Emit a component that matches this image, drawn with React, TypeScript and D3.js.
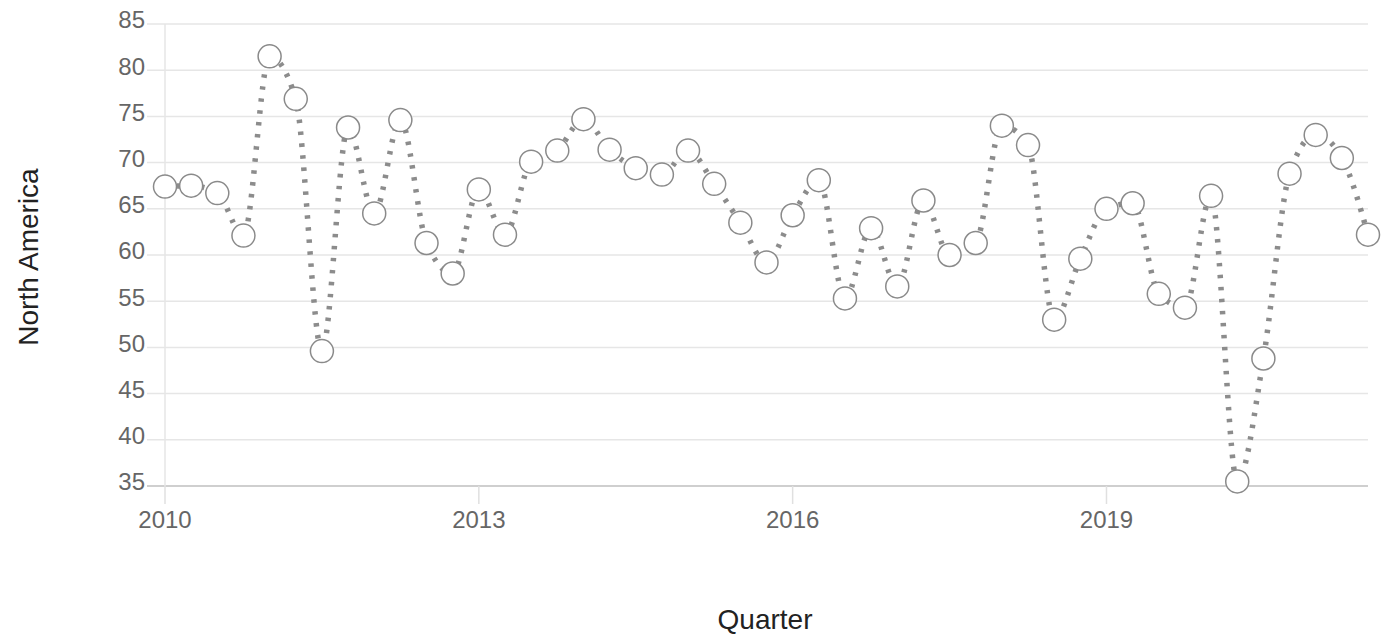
import React from "react";
import * as d3 from "d3";

// quarterly values, 2010 Q1 .. 2021 Q3
const quarters: string[] = [
  "2010 Q1", "2010 Q2", "2010 Q3", "2010 Q4",
  "2011 Q1", "2011 Q2", "2011 Q3", "2011 Q4",
  "2012 Q1", "2012 Q2", "2012 Q3", "2012 Q4",
  "2013 Q1", "2013 Q2", "2013 Q3", "2013 Q4",
  "2014 Q1", "2014 Q2", "2014 Q3", "2014 Q4",
  "2015 Q1", "2015 Q2", "2015 Q3", "2015 Q4",
  "2016 Q1", "2016 Q2", "2016 Q3", "2016 Q4",
  "2017 Q1", "2017 Q2", "2017 Q3", "2017 Q4",
  "2018 Q1", "2018 Q2", "2018 Q3", "2018 Q4",
  "2019 Q1", "2019 Q2", "2019 Q3", "2019 Q4",
  "2020 Q1", "2020 Q2", "2020 Q3", "2020 Q4",
  "2021 Q1", "2021 Q2", "2021 Q3",
];

const northAmerica: number[] = [
  67.4, 67.5, 66.7, 62.1,
  81.5, 76.9, 49.6, 73.8,
  64.5, 74.6, 61.3, 58.0,
  67.1, 62.2, 70.1, 71.3,
  74.7, 71.4, 69.4, 68.7,
  71.3, 67.7, 63.5, 59.2,
  64.3, 68.1, 55.3, 62.9,
  56.6, 65.9, 60.0, 61.3,
  74.0, 71.9, 53.0, 59.6,
  65.0, 65.6, 55.8, 54.3,
  66.4, 35.5, 48.8, 68.8,
  73.0, 70.5, 62.2,
];

const xTicks: number[] = [2010, 2013, 2016, 2019];
const yTicks: number[] = [35, 40, 45, 50, 55, 60, 65, 70, 75, 80, 85];

const W = 1383;
const H = 635;
const margin = { top: 24, right: 15, bottom: 149, left: 165 };
const tickLen = 18;
const font = "'Liberation Sans', Arial, sans-serif";

function toYear(q: string): number {
  const [y, qq] = q.split(" Q");
  return +y + (+qq - 1) / 4;
}

export default function App(): JSX.Element {
  const data = quarters.map((q, i) => ({ t: toYear(q), v: northAmerica[i] }));

  const x = d3
    .scaleLinear()
    .domain([2010, 2021.5])
    .range([margin.left, W - margin.right]);
  const y = d3
    .scaleLinear()
    .domain([35, 85])
    .range([H - margin.bottom, margin.top]);

  const line = d3
    .line<{ t: number; v: number }>()
    .x((d) => x(d.t))
    .y((d) => y(d.v))
    .curve(d3.curveMonotoneX);

  const bottom = y(35);

  return (
    <div style={{ position: "fixed", left: 0, top: 0 }}>
      <svg width={W} height={H} style={{ display: "block", background: "#fff" }}>
        {/* horizontal grid */}
        {yTicks.map((t) => (
          <line
            key={"g" + t}
            x1={margin.left - tickLen}
            x2={W - margin.right}
            y1={y(t)}
            y2={y(t)}
            stroke={t === 35 ? "#cfcfcf" : "#e6e6e6"}
            strokeWidth={t === 35 ? 2 : 1.5}
          />
        ))}
        {/* left axis line */}
        <line
          x1={margin.left}
          x2={margin.left}
          y1={margin.top}
          y2={bottom}
          stroke="#e6e6e6"
          strokeWidth={1.5}
        />
        {yTicks.map((t) => (
          <text
            key={"yl" + t}
            x={margin.left - 20}
            y={y(t) - 2}
            textAnchor="end"
            dominantBaseline="middle"
            fontFamily={font}
            fontSize={24}
            fill="#666"
          >
            {t}
          </text>
        ))}
        {xTicks.map((t) => (
          <g key={"x" + t}>
            <line
              x1={x(t)}
              x2={x(t)}
              y1={bottom}
              y2={bottom + tickLen}
              stroke="#e0e0e0"
              strokeWidth={1.5}
            />
            <text
              x={x(t)}
              y={bottom + 42}
              textAnchor="middle"
              fontFamily={font}
              fontSize={24}
              fill="#666"
            >
              {t}
            </text>
          </g>
        ))}

        <path
          d={line(data) || ""}
          fill="none"
          stroke="#8c8c8c"
          strokeWidth={5.5}
          strokeDasharray="3.5 8.5"
        />
        {data.map((d, i) => (
          <circle
            key={"c" + i}
            cx={x(d.t)}
            cy={y(d.v)}
            r={11.5}
            fill="#fff"
            stroke="#8a8a8a"
            strokeWidth={1.5}
          />
        ))}

        <text
          transform={`translate(38,${(margin.top + bottom) / 2 + 2}) rotate(-90)`}
          textAnchor="middle"
          fontFamily={font}
          fontSize={28}
          fill="#222"
        >
          North America
        </text>
        <text
          x={765}
          y={629}
          textAnchor="middle"
          fontFamily={font}
          fontSize={28}
          fill="#222"
        >
          Quarter
        </text>
      </svg>
    </div>
  );
}
